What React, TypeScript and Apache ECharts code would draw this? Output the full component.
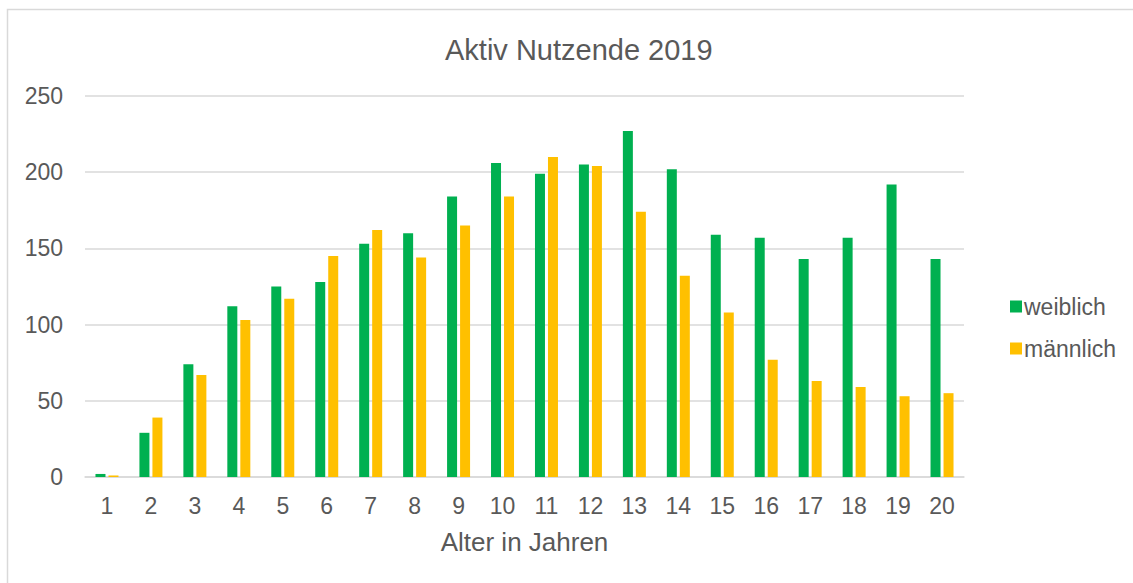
import React, { useEffect, useRef } from "react";
import * as echarts from "echarts";

const categories = ["1","2","3","4","5","6","7","8","9","10","11","12","13","14","15","16","17","18","19","20"];
const weiblich = [2, 29, 74, 112, 125, 128, 153, 160, 184, 206, 199, 205, 227, 202, 159, 157, 143, 157, 192, 143];
const maennlich = [1, 39, 67, 103, 117, 145, 162, 144, 165, 184, 210, 204, 174, 132, 108, 77, 63, 59, 53, 55];

const TEXT = "#595959";
const GRID = "#d9d9d9";
const FONT = "'Liberation Sans', Arial, sans-serif";

export default function App() {
  const ref = useRef<HTMLDivElement>(null);
  useEffect(() => {
    if (!ref.current) return;
    const chart = echarts.init(ref.current, undefined, { renderer: "svg" });
    chart.setOption({
      animation: false,
      backgroundColor: "#ffffff",
      textStyle: { fontFamily: FONT },
      title: {
        text: "Aktiv Nutzende 2019",
        left: 440,
        top: 30,
        textStyle: { color: TEXT, fontSize: 29, fontWeight: "normal", fontFamily: FONT },
      },
      legend: {
        orient: "vertical",
        left: 1005,
        top: 290,
        itemWidth: 12,
        itemHeight: 12,
        itemGap: 19,
        icon: "rect",
        textStyle: { color: TEXT, fontSize: 23, fontFamily: FONT, padding: [0, 0, 0, -3] },
        data: ["weiblich", "männlich"],
      },
      grid: { left: 85, right: 169, top: 96, bottom: 106, containLabel: false },
      xAxis: {
        type: "category",
        data: categories,
        name: "Alter in Jahren",
        nameLocation: "middle",
        nameGap: 52,
        nameTextStyle: { color: TEXT, fontSize: 26, fontFamily: FONT },
        axisTick: { show: false },
        axisLine: { lineStyle: { color: GRID, width: 1.5 } },
        axisLabel: { color: TEXT, fontSize: 23, margin: 17, fontFamily: FONT },
      },
      yAxis: {
        type: "value",
        min: 0,
        max: 250,
        interval: 50,
        axisLine: { show: false },
        axisTick: { show: false },
        axisLabel: { color: TEXT, fontSize: 23, margin: 22, fontFamily: FONT },
        splitLine: { lineStyle: { color: GRID, width: 1.5 } },
      },
      series: [
        {
          name: "weiblich",
          type: "bar",
          data: weiblich,
          barWidth: 10,
          barGap: "30%",
          itemStyle: { color: "#00b050" },
        },
        {
          name: "männlich",
          type: "bar",
          data: maennlich,
          barWidth: 10,
          barGap: "30%",
          itemStyle: { color: "#ffc000" },
        },
      ],
      graphic: [
        {
          type: "rect",
          silent: true,
          shape: { x: 7.5, y: 9.5, width: 2000, height: 2000 },
          style: { fill: "none", stroke: GRID, lineWidth: 1.5 },
        },
      ],
    });
    return () => chart.dispose();
  }, []);
  return (
    <div
      ref={ref}
      style={{ position: "absolute", left: 0, top: 0, width: 1133, height: 583 }}
    />
  );
}
